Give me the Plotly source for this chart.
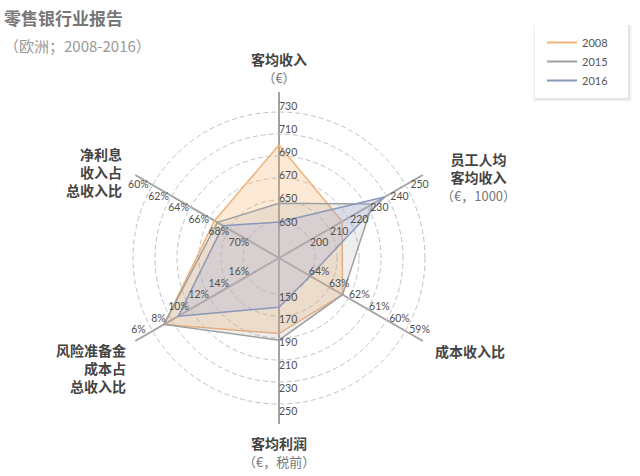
import math
import plotly.graph_objects as go

# ---------------- data ----------------
categories = ["客均收入", "员工人均客均收入", "成本收入比", "客均利润",
              "风险准备金成本占总收入比", "净利息收入占总收入比"]
ticks_income = [630, 650, 670, 690, 710, 730]
ticks_staff = [200, 210, 220, 230, 240, 250]
ticks_cost = [64, 63, 62, 61, 60, 59]
ticks_profit = [150, 170, 190, 210, 230, 250]
ticks_risk = [16, 14, 12, 10, 8, 6]
ticks_nii = [70, 68, 66, 64, 62, 60]
tick_suffix = ["", "", "%", "", "%", "%"]

series_names = ["2008", "2015", "2016"]
values_2008 = [700, 216.8, 62.3, 186, 7.2, 66.5]
values_2015 = [647, 232.7, 62.3, 192, 7.2, 66.8]
values_2016 = [630, 239, 64.0, 162, 8.7, 67.4]

# ---------------- style ----------------
angles = [90, 30, 330, 270, 210, 150]
tick_sets = [ticks_income, ticks_staff, ticks_cost, ticks_profit, ticks_risk, ticks_nii]
line_colors = ["#f2b27c", "#a0a0a0", "#8a99b8"]
fill_colors = ["rgba(246,180,112,0.28)", "rgba(150,150,150,0.16)", "rgba(168,178,218,0.30)"]
W, H = 640, 476
CX, CY = 279, 258
R_MAX = 166
R0, DR = 36, 22
CJK = "Noto Sans CJK SC"
NUMF = "Lato, Noto Sans CJK SC"


def to_r(v, ticks):
    return R0 + DR * (v - ticks[0]) / (ticks[1] - ticks[0])


fig = go.Figure()

for name, vals, lc, fc in zip(series_names, [values_2008, values_2015, values_2016],
                              line_colors, fill_colors):
    rr = [to_r(v, t) for v, t in zip(vals, tick_sets)]
    fig.add_trace(go.Scatterpolar(
        r=rr + [rr[0]], theta=angles + [angles[0]], mode="lines",
        fill="toself", fillcolor=fc, line=dict(color=lc, width=1.5),
        showlegend=False, hoverinfo="skip"))

# axis tick labels
for ang, ticks, suf in zip(angles, tick_sets, tick_suffix):
    rs, ths, txt = [], [], []
    for k, t in enumerate(ticks):
        if ang == 90:
            r, th = 35 + 23.2 * k, 90
        elif ang == 270:
            r, th = 40 + 22.8 * k, 270
        else:
            along = 42 + 23.2 * k
            perp = 7.5
            d = math.degrees(math.atan(perp / along))
            sign = -1 if ang in (30, 210) else 1
            r, th = math.hypot(along, perp), ang + sign * d
        rs.append(r)
        ths.append(th)
        txt.append(f"{t}{suf}")
    fig.add_trace(go.Scatterpolar(
        r=rs, theta=ths, mode="text", text=txt,
        textposition="middle right" if ang in (90, 270) else "middle center",
        textfont=dict(family=NUMF, size=10.5, color="#505050"),
        showlegend=False, hoverinfo="skip"))

# legend entries
for name, lc in zip(series_names, line_colors):
    fig.add_trace(go.Scatterpolar(r=[None], theta=[None], mode="lines",
                                  line=dict(color=lc, width=2), name=name))

annotations = []
SUB = "<span style='font-size:13px;color:#777777;font-weight:normal'>{}</span>"


def add_text(text, x, y, size, color, xanchor="center", align="center", yanchor="middle"):
    annotations.append(dict(
        text=text, x=x / W, y=1 - y / H, align=align,
        xref="paper", yref="paper", xanchor=xanchor, yanchor=yanchor,
        showarrow=False, font=dict(family=CJK, size=size, color=color)))


add_text("<b>零售银行业报告</b>", 2, 18, 17, "#777777", "left", "left")
add_text("（欧洲；2008-2016）", 2, 45, 15, "#999999", "left", "left")

add_text("<b>客均收入</b><br>" + SUB.format("（€）"), 279, 68, 14, "#444444")
add_text("<b>员工人均</b><br><b>客均收入</b><br>" + SUB.format("（€，1000）"),
         478, 177, 14, "#444444")
add_text("<b>成本收入比</b>", 470, 351, 14, "#444444")
add_text("<b>客均利润</b><br>" + SUB.format("（€，税前）"), 279, 452, 14, "#444444")
add_text("<b>风险准备金</b><br><b>成本占</b><br><b>总收入比</b>", 128, 368, 14,
         "#444444", "right", "right")
add_text("<b>净利息</b><br><b>收入占</b><br><b>总收入比</b>", 124, 172, 14,
         "#444444", "right", "right")


def prect(x0, y0, x1, y1, color):
    return dict(type="rect", xref="paper", yref="paper",
                x0=x0 / W, x1=x1 / W, y0=1 - y1 / H, y1=1 - y0 / H,
                fillcolor=color, line=dict(width=0), layer="below")


shapes = [
    prect(533, 25, 632, 102, "rgba(0,0,0,0.025)"),
    prect(534, 25, 631, 101, "rgba(0,0,0,0.035)"),
    prect(535, 25, 630, 100, "rgba(0,0,0,0.045)"),
    prect(535, 24, 628, 98, "#ffffff"),
]

fig.update_layout(
    width=W, height=H, margin=dict(l=0, r=0, t=0, b=0),
    paper_bgcolor="white", plot_bgcolor="white",
    annotations=annotations, shapes=shapes,
    legend=dict(x=542 / W, y=1 - 28 / H, xanchor="left", yanchor="top",
                bgcolor="rgba(0,0,0,0)", borderwidth=0,
                font=dict(family="Lato", size=11, color="#555555"),
                itemwidth=30),
    polar=dict(
        domain=dict(x=[(CX - R_MAX) / W, (CX + R_MAX) / W],
                    y=[(H - CY - R_MAX) / H, (H - CY + R_MAX) / H]),
        bgcolor="white",
        radialaxis=dict(range=[0, R_MAX], tickvals=[R0 + DR * k for k in range(6)],
                        showticklabels=False, ticks="", showline=False,
                        gridcolor="#c2c2c2", griddash="5px,3px", gridwidth=1),
        angularaxis=dict(tickvals=angles, thetaunit="degrees",
                         direction="counterclockwise", rotation=0,
                         showticklabels=False, ticks="", showline=False,
                         gridcolor="#a3a3a3", gridwidth=1.5),
    ),
)

fig.write_html("out.html", post_script="document.body.style.margin='0';",
               config={"displayModeBar": False})
